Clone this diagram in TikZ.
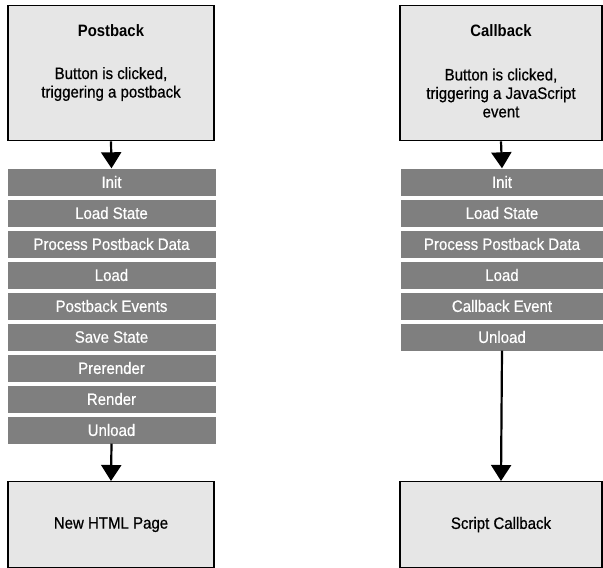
\documentclass[tikz,border=0pt]{standalone}
\usepackage{fontspec}
\setmainfont{Liberation Sans}[FakeStretch=0.91,FakeBold=0.6]
\newfontfamily\boldtitle{Liberation Sans Bold}[FakeStretch=0.9]
\usetikzlibrary{arrows.meta}
\definecolor{boxfill}{HTML}{E6E6E6}
\definecolor{barfill}{HTML}{7F7F7F}
\begin{document}
\begin{tikzpicture}[x=1pt,y=-1pt,
  bigbox/.style={draw=black, line width=1.3pt, fill=boxfill, inner sep=0pt, align=center, font=\fontsize{16.5}{18.5}\selectfont},
  stagebar/.style={fill=barfill, inner sep=0pt, minimum height=27pt, text=white, font=\fontsize{16.5}{18.5}\selectfont},
  flow/.style={line width=2.2pt, -{Triangle[width=20pt,length=16pt]}}]
\useasboundingbox (0,0) rectangle (603,568);
% left column
\node[bigbox, minimum width=206pt, minimum height=135pt, anchor=north] (pb) at (111,5) {};
\node[font=\fontsize{16.5}{18.5}\boldtitle] (pbt) at (111,31) {Postback};
\node[align=center, font=\fontsize{16.5}{18.5}\selectfont] (pbd) at (111,84) {Button is clicked,\\triggering a postback};
\foreach \n/\t [count=\i from 0] in {l1/Init, l2/Load State, l3/Process Postback Data, l4/Load, l5/Postback Events, l6/Save State, l7/Prerender, l8/Render, l9/Unload}{
  \node[stagebar, minimum width=208pt] (\n) at (111.5,182+31*\i) {\t};
}
\node[bigbox, minimum width=206pt, minimum height=86pt, anchor=north] (html) at (111,481) {New HTML Page};
\draw[flow] (pb.south) -- (l1.north);
\draw[flow] (l9.south) -- (html.north);
% right column
\node[bigbox, minimum width=202pt, minimum height=135pt, anchor=north] (cb) at (501,5) {};
\node[font=\fontsize{16.5}{18.5}\boldtitle] (cbt) at (501,31) {Callback};
\node[align=center, font=\fontsize{16.5}{18.5}\selectfont] (cbd) at (501,93) {Button is clicked,\\triggering a JavaScript\\event};
\foreach \n/\t [count=\i from 0] in {r1/Init, r2/Load State, r3/Process Postback Data, r4/Load, r5/Callback Event, r6/Unload}{
  \node[stagebar, minimum width=202pt] (\n) at (502,182+31*\i) {\t};
}
\node[bigbox, minimum width=202pt, minimum height=86pt, anchor=north] (sc) at (501,481) {Script Callback};
\draw[flow] (cb.south) -- (r1.north);
\draw[flow] (r6.south) -- (sc.north);
\end{tikzpicture}
\end{document}
